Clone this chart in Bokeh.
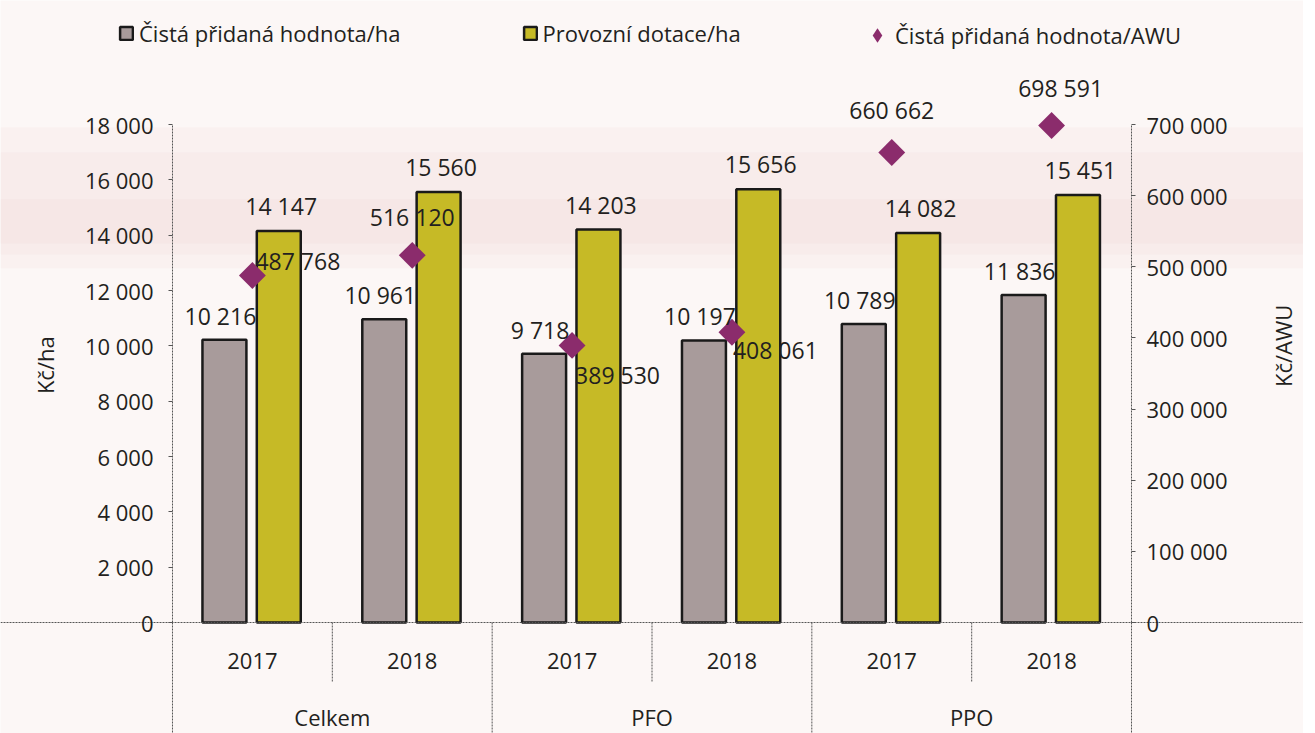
import math
from bokeh.plotting import figure
from bokeh.models import (ColumnDataSource, FactorRange, Range1d, LinearAxis, CategoricalAxis,
                          FixedTicker, Legend, LegendItem, BoxAnnotation)
from bokeh.transform import dodge
from bokeh.core.properties import value, field
from bokeh.embed import file_html
from bokeh.resources import INLINE

# ---------------- data ----------------
groups = ["Celkem", "Celkem", "PFO", "PFO", "PPO", "PPO"]
years = ["2017", "2018", "2017", "2018", "2017", "2018"]
group_names = ["Celkem", "PFO", "PPO"]
cista_ha = [10216, 10961, 9718, 10197, 10789, 11836]
dotace_ha = [14147, 15560, 14203, 15656, 14082, 15451]
cista_awu = [487768, 516120, 389530, 408061, 660662, 698591]
left_ticks = [0, 2000, 4000, 6000, 8000, 10000, 12000, 14000, 16000, 18000]
left_tick_labels = ["0", "2 000", "4 000", "6 000", "8 000", "10 000", "12 000",
                    "14 000", "16 000", "18 000"]
right_ticks = [0, 100000, 200000, 300000, 400000, 500000, 600000, 700000]
right_tick_labels = ["0", "100 000", "200 000", "300 000", "400 000", "500 000",
                     "600 000", "700 000"]
series_names = ["Čistá přidaná hodnota/ha", "Provozní dotace/ha", "Čistá přidaná hodnota/AWU"]
left_title = "Kč/ha"
right_title = "Kč/AWU"

# ---------------- style ----------------
FONT = "Open Sans"
TXT = "#231f20"
GRAY = "#a89b9b"
YELLOW = "#c6ba26"
PURPLE = "#8b2c6c"
BG = "#fcf7f6"
BAND = "#f0d6d6"
EDGE = "#1a1a1a"
AXC = "#555555"
FS = "23px"
FS_SMALL = "22px"

W, H = 1303, 733
PAD = 1.076             # x padding (category units) each side of the 6 bins
Y_START, Y_END = -4012, 22482
RATIO = right_ticks[-1] / left_ticks[-1]

# label placement (screen px) for the AWU markers
awu_dx = [3, 0, 3, 1, 0, 9]
awu_dy = [-14, -38, 30, 18, -42, -38]
awu_align = ["left", "center", "left", "left", "center", "center"]


def fmt(v):
    return f"{v:,}".replace(",", " ")


factors = list(zip(groups, years))
src = ColumnDataSource(dict(
    x=factors,
    cp=cista_ha, dot=dotace_ha, awu=cista_awu,
    cp_t=[fmt(v) for v in cista_ha], dot_t=[fmt(v) for v in dotace_ha],
    awu_t=[fmt(v) for v in cista_awu],
    dx=awu_dx, dy=awu_dy, align=awu_align,
))

x_range = FactorRange(factors=factors, range_padding=PAD, range_padding_units="absolute",
                      group_padding=0, factor_padding=0)
p = figure(width=W, height=H, x_range=x_range, y_range=Range1d(Y_START, Y_END),
           output_backend="svg", toolbar_location=None,
           x_axis_location=None, y_axis_location=None,
           min_border_left=0, min_border_right=0, min_border_top=0, min_border_bottom=0)
p.extra_y_ranges = {"awu": Range1d(Y_START * RATIO, Y_END * RATIO)}
p.extra_x_ranges = {"grp": FactorRange(factors=group_names, range_padding=PAD / 2,
                                       range_padding_units="absolute", factor_padding=0)}
p.background_fill_color = BG
p.border_fill_color = BG
p.outline_line_color = None
p.xgrid.visible = False
p.ygrid.visible = False

# faint, soft pink band of the printed page (layered for a soft edge)
for lo, hi, a in ((12800, 17900, 0.16), (13300, 17000, 0.18), (13700, 15300, 0.22)):
    p.add_layout(BoxAnnotation(bottom=lo, top=hi, fill_color=BAND, fill_alpha=a,
                               line_color=None, level="underlay"))

# synthetic x positions of the outer bin edges
left_loc = 0.0
right_loc = float(len(factors))

# left axis
ya = LinearAxis(fixed_location=left_loc, ticker=FixedTicker(ticks=left_ticks),
                major_label_overrides=dict(zip(left_ticks, left_tick_labels)),
                bounds=(left_ticks[0], left_ticks[-1]))
p.add_layout(ya, "left")
# right axis
ra = LinearAxis(y_range_name="awu", fixed_location=right_loc,
                ticker=FixedTicker(ticks=right_ticks),
                major_label_overrides=dict(zip(right_ticks, right_tick_labels)),
                bounds=(right_ticks[0], right_ticks[-1]))
p.add_layout(ra, "right")

for ax, std in ((ya, 15), (ra, 11)):
    ax.axis_line_color = AXC
    ax.axis_line_dash = "2 1"
    ax.axis_line_width = 1
    ax.major_tick_line_color = AXC
    ax.major_tick_out = 4
    ax.major_tick_in = 0
    ax.minor_tick_line_color = None
    ax.major_label_text_font = FONT
    ax.major_label_text_font_size = FS_SMALL
    ax.major_label_text_color = TXT
    ax.major_label_standoff = std

# axis titles
p.text(x=[(groups[0], years[0], -0.5 - 0.795)], y=[9300], text=[left_title],
       angle=math.pi / 2, text_font=value(FONT), text_font_size=value(FS_SMALL),
       text_color=TXT, text_align="center", text_baseline="middle")
p.text(x=[(groups[-1], years[-1], 0.5 + 0.95)], y=[10000], text=[right_title],
       angle=math.pi / 2, text_font=value(FONT), text_font_size=value(FS_SMALL),
       text_color=TXT, text_align="center", text_baseline="middle")

# bottom axes (years and groups)
xa = CategoricalAxis(fixed_location=0, major_label_standoff=24)
xa.axis_line_color = AXC
xa.axis_line_dash = "2 1"
xa.major_tick_line_color = None
xa.minor_tick_line_color = None
xa.separator_line_color = None
xa.group_text_color = None
xa.major_label_text_font = FONT
xa.major_label_text_font_size = FS_SMALL
xa.major_label_text_color = TXT
p.add_layout(xa, "below")

ga = CategoricalAxis(x_range_name="grp", fixed_location=0, major_label_standoff=73)
ga.axis_line_color = None
ga.major_tick_line_color = None
ga.minor_tick_line_color = None
ga.major_label_text_font = FONT
ga.major_label_text_font_size = FS_SMALL
ga.major_label_text_color = TXT
p.add_layout(ga, "below")

# separators below the baseline
sep_x = [(g, y, -0.5) for g, y in factors] + [(groups[-1], years[-1], 0.5)]
sep_bottom = [Y_START if (i % 2 == 0) else -2150 for i in range(len(sep_x))]
p.segment(x0=sep_x, y0=[0] * len(sep_x), x1=sep_x, y1=sep_bottom,
          line_color=AXC, line_dash="2 1", line_width=1)

# bars
r_gray = p.vbar(x=dodge("x", -0.175, range=x_range), top="cp", width=0.275, source=src,
                fill_color=GRAY, line_color=EDGE, line_width=2.5)
r_yel = p.vbar(x=dodge("x", 0.165, range=x_range), top="dot", width=0.275, source=src,
               fill_color=YELLOW, line_color=EDGE, line_width=2.5)
r_awu = p.scatter(x="x", y="awu", y_range_name="awu", source=src, marker="square",
                  angle=math.pi / 4, size=19, fill_color=PURPLE, line_color=None)
# diamond swatch used for the legend of the same series (zero size on the chart)
r_awu_key = p.scatter(x="x", y="awu", y_range_name="awu", source=src, marker="diamond",
                      size=0, fill_color=PURPLE, line_color=None)

# value labels
p.text(x=dodge("x", -0.2, range=x_range), y="cp", text="cp_t", source=src,
       text_font=value(FONT), text_font_size=value(FS), text_color=TXT,
       text_align="center", text_baseline="bottom", y_offset=-8)
p.text(x=dodge("x", 0.18, range=x_range), y="dot", text="dot_t", source=src,
       text_font=value(FONT), text_font_size=value(FS), text_color=TXT,
       text_align="center", text_baseline="bottom", y_offset=-9)
p.text(x="x", y="awu", y_range_name="awu", text="awu_t", source=src,
       text_font=value(FONT), text_font_size=value(FS), text_color=TXT,
       text_align=field("align"), text_baseline="middle",
       x_offset=field("dx"), y_offset=field("dy"))

common = dict(orientation="horizontal", padding=0, margin=0, label_text_font=FONT,
              label_text_font_size=FS_SMALL, label_text_color=TXT, background_fill_alpha=0,
              border_line_color=None, label_height=28)
leg1 = Legend(items=[LegendItem(label=series_names[0], renderers=[r_gray]),
                     LegendItem(label=series_names[1], renderers=[r_yel])],
              location=(118, H - 48), spacing=121, glyph_width=16, glyph_height=16,
              label_standoff=5, **common)
leg2 = Legend(items=[LegendItem(label=series_names[2], renderers=[r_awu_key])],
              location=(859, H - 53), glyph_width=36, glyph_height=36,
              label_standoff=-11, **common)
p.add_layout(leg1)
p.add_layout(leg2)

open("out.html", "w").write(file_html(p, INLINE))
